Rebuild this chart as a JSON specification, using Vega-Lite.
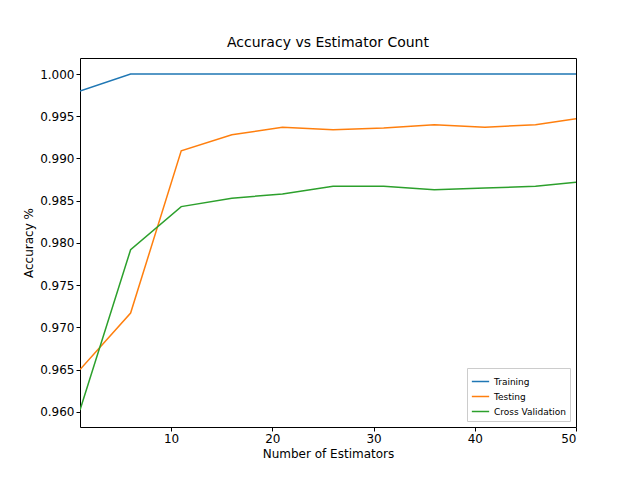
{
  "$schema": "https://vega.github.io/schema/vega-lite/v6.json",
  "width": 496,
  "height": 369,
  "autosize": "none",
  "padding": {"left": 80, "top": 58, "right": 64, "bottom": 53},
  "background": "white",
  "title": {"text": "Accuracy vs Estimator Count", "fontSize": 14, "fontWeight": "normal", "font": "DejaVu Sans", "offset": 8, "color": "black"},
  "data": {
    "values": [
      {"n": 1, "s": "Training", "acc": 0.998}, {"n": 6, "s": "Training", "acc": 1.0}, {"n": 11, "s": "Training", "acc": 1.0}, {"n": 16, "s": "Training", "acc": 1.0}, {"n": 21, "s": "Training", "acc": 1.0}, {"n": 26, "s": "Training", "acc": 1.0}, {"n": 31, "s": "Training", "acc": 1.0}, {"n": 36, "s": "Training", "acc": 1.0}, {"n": 41, "s": "Training", "acc": 1.0}, {"n": 46, "s": "Training", "acc": 1.0}, {"n": 50, "s": "Training", "acc": 1.0},
      {"n": 1, "s": "Testing", "acc": 0.965}, {"n": 6, "s": "Testing", "acc": 0.9717}, {"n": 11, "s": "Testing", "acc": 0.9909}, {"n": 16, "s": "Testing", "acc": 0.9928}, {"n": 21, "s": "Testing", "acc": 0.9937}, {"n": 26, "s": "Testing", "acc": 0.9934}, {"n": 31, "s": "Testing", "acc": 0.9936}, {"n": 36, "s": "Testing", "acc": 0.994}, {"n": 41, "s": "Testing", "acc": 0.9937}, {"n": 46, "s": "Testing", "acc": 0.994}, {"n": 50, "s": "Testing", "acc": 0.9947},
      {"n": 1, "s": "Cross Validation", "acc": 0.9602}, {"n": 6, "s": "Cross Validation", "acc": 0.9792}, {"n": 11, "s": "Cross Validation", "acc": 0.9843}, {"n": 16, "s": "Cross Validation", "acc": 0.9853}, {"n": 21, "s": "Cross Validation", "acc": 0.9858}, {"n": 26, "s": "Cross Validation", "acc": 0.9867}, {"n": 31, "s": "Cross Validation", "acc": 0.9867}, {"n": 36, "s": "Cross Validation", "acc": 0.9863}, {"n": 41, "s": "Cross Validation", "acc": 0.9865}, {"n": 46, "s": "Cross Validation", "acc": 0.9867}, {"n": 50, "s": "Cross Validation", "acc": 0.9872}
    ]
  },
  "mark": {"type": "line", "strokeWidth": 1.5, "clip": true},
  "encoding": {
    "x": {"field": "n", "type": "quantitative", "title": "Number of Estimators",
      "scale": {"domain": [1, 50], "nice": false, "zero": false},
      "axis": {"values": [10, 20, 30, 40, 50]}},
    "y": {"field": "acc", "type": "quantitative", "title": "Accuracy %",
      "scale": {"domain": [0.9582, 1.0019], "nice": false, "zero": false},
      "axis": {"values": [0.96, 0.965, 0.97, 0.975, 0.98, 0.985, 0.99, 0.995, 1.0], "format": ".3f"}},
    "color": {"field": "s", "type": "nominal", "title": null,
      "scale": {"domain": ["Training", "Testing", "Cross Validation"], "range": ["#1f77b4", "#ff7f0e", "#2ca02c"]},
      "legend": {"orient": "bottom-right", "offset": 6, "symbolType": "stroke", "symbolStrokeWidth": 1.5, "symbolSize": 300, "labelFontSize": 9, "labelFont": "DejaVu Sans", "strokeColor": "#cccccc", "padding": 4, "fillColor": "white", "rowPadding": 0}
    }
  },
  "config": {
    "view": {"stroke": "black", "strokeWidth": 1},
    "axis": {"grid": false, "domain": false, "tickColor": "black", "tickSize": 4, "labelColor": "black", "labelFontSize": 12, "labelFont": "DejaVu Sans", "titleFont": "DejaVu Sans", "titleFontSize": 12, "titleFontWeight": "normal", "titleColor": "black"}
  }
}
